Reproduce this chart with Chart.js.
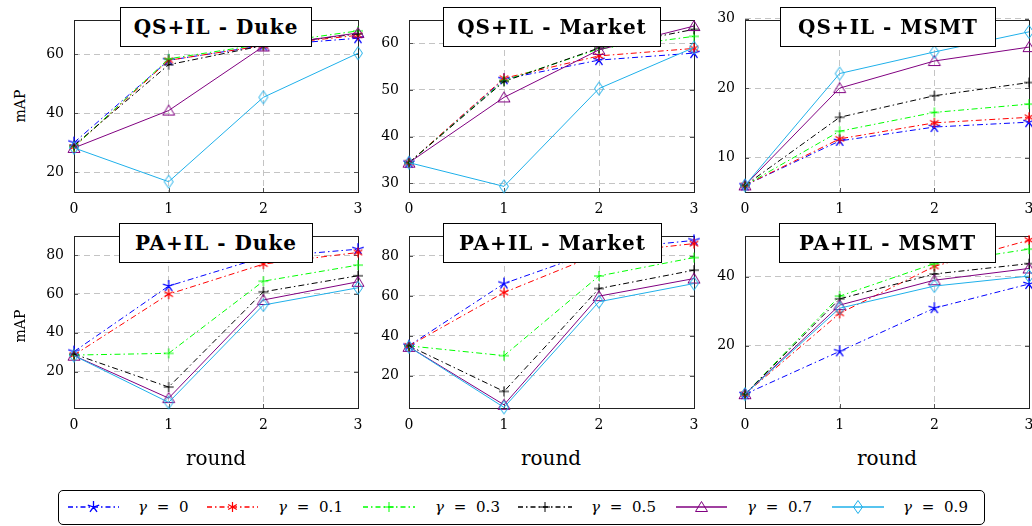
<!DOCTYPE html>
<html>
<head>
<meta charset="utf-8">
<script src="https://cdn.jsdelivr.net/npm/chart.js@4.4.1/dist/chart.umd.min.js"></script>
<style>
  body { margin: 0; width: 1032px; height: 526px; overflow: hidden; background: #fff; position: relative; font-family: "DejaVu Serif", serif; }
  canvas { position: absolute; }
  .ttl { position: absolute; height: 40px; border: 1px solid #000; background: #fff; box-sizing: border-box;
         font: bold 20px "DejaVu Serif", serif; letter-spacing: 1px; display: flex; align-items: center; justify-content: center; z-index: 2; }
  .ylab { position: absolute; width: 60px; height: 20px; line-height: 20px; text-align: center; font-size: 14px; transform: rotate(-90deg); }
  .xlab { position: absolute; width: 120px; height: 24px; line-height: 24px; text-align: center; font-size: 20px; }
  .legend { position: absolute; left: 58px; top: 490px; width: 927px; height: 35px; border: 1px solid #000; border-radius: 5px; box-sizing: border-box; }
  .ltxt { position: absolute; top: 497px; height: 20px; line-height: 20px; font-size: 15px; word-spacing: 5px; white-space: nowrap; }
</style>
</head>
<body>
<script>
// data
const rounds = ["0", "1", "2", "3"]
const gammas = ["0", "0.1", "0.3", "0.5", "0.7", "0.9"]

const qsDuke = [
  [30, 58, 63, 65.5],
  [28.5, 58, 63, 66.5],
  [28.5, 58.5, 63.5, 68],
  [29, 56.5, 63, 67],
  [28.2, 40.9, 62.7, 67.3],
  [28.2, 16.7, 45.4, 60.4],
]
const qsMarket = [
  [34.4, 52.3, 56.4, 57.9],
  [34.4, 52.5, 57.3, 58.9],
  [34.4, 52, 58.8, 61.5],
  [34.4, 51.8, 59, 63],
  [34.4, 48.4, 58.6, 63.7],
  [34.4, 29.3, 50.3, 59.1],
]
const qsMsmt = [
  [6, 12.4, 14.4, 15.1],
  [6, 12.7, 15, 15.8],
  [6, 13.8, 16.5, 17.7],
  [6, 15.8, 18.9, 20.8],
  [6, 20, 23.9, 25.9],
  [6, 22.1, 25.2, 28.1],
]
const paDuke = [
  [30.3, 64.1, 79, 83.1],
  [28.5, 59.9, 75.4, 81.4],
  [28.5, 29.4, 66.6, 74.9],
  [29, 12, 61.1, 69.4],
  [28.2, 6.3, 56.9, 66.3],
  [28.2, 4.1, 54.3, 63.2],
]
const paMarket = [
  [35.1, 66.2, 83, 87.8],
  [35, 61.7, 81, 86.2],
  [35, 30.1, 70, 79.2],
  [35, 12.2, 63.7, 72.9],
  [34.5, 5.5, 59.9, 68.7],
  [34.5, 4.2, 57.1, 66.2],
]
const paMsmt = [
  [6, 18.4, 30.9, 37.9],
  [6, 29.4, 43, 50.6],
  [6, 34.4, 43.8, 48],
  [6, 33.6, 40.8, 43.8],
  [6, 31.8, 39, 42.4],
  [6, 30.9, 37.3, 40.2],
]

const qsDukeTicks = [20, 40, 60]
const qsMarketTicks = [30, 40, 50, 60]
const qsMsmtTicks = [10, 20, 30]
const paDukeTicks = [20, 40, 60, 80]
const paMarketTicks = [20, 40, 60, 80]
const paMsmtTicks = [20, 40]

const colors = ["#0000ff", "#ff0000", "#00ff00", "#000000", "#800080", "#1fb0ea"]
const marks = ["star", "asterisk", "plus", "plus", "triangle", "diamond"]
const dashDot = [6, 3, 1.5, 3]

function drawMark(ctx, kind, color, cx, cy) {
  ctx.save()
  ctx.strokeStyle = color
  ctx.lineWidth = 1
  ctx.setLineDash([])
  ctx.beginPath()
  if (kind == "star") {
    ctx.lineWidth = 1.3
    for (let k = 0; k < 5; k++) {
      const a = -Math.PI / 2 + k * 2 * Math.PI / 5
      ctx.moveTo(cx, cy)
      ctx.lineTo(cx + 6 * Math.cos(a), cy + 6 * Math.sin(a))
    }
  } else if (kind == "asterisk") {
    ctx.lineWidth = 1.2
    for (let k = 0; k < 3; k++) {
      const a = Math.PI / 2 + k * Math.PI / 3
      ctx.moveTo(cx - 5 * Math.cos(a), cy - 5 * Math.sin(a))
      ctx.lineTo(cx + 5 * Math.cos(a), cy + 5 * Math.sin(a))
    }
  } else if (kind == "plus") {
    ctx.moveTo(cx - 5, cy); ctx.lineTo(cx + 5, cy)
    ctx.moveTo(cx, cy - 5); ctx.lineTo(cx, cy + 5)
  } else if (kind == "triangle") {
    ctx.moveTo(cx, cy - 5.5); ctx.lineTo(cx + 6, cy + 4.5); ctx.lineTo(cx - 6, cy + 4.5); ctx.closePath()
  } else if (kind == "diamond") {
    ctx.moveTo(cx, cy - 6.5); ctx.lineTo(cx + 4.5, cy); ctx.lineTo(cx, cy + 6.5); ctx.lineTo(cx - 4.5, cy); ctx.closePath()
  }
  ctx.stroke()
  ctx.restore()
}

function markCanvas(kind, color) {
  const c = document.createElement("canvas")
  c.width = 16
  c.height = 16
  drawMark(c.getContext("2d"), kind, color, 8, 8)
  return c
}

const markImgs = marks.map((m, i) => markCanvas(m, colors[i]))

// frame + inward ticks like pgfplots
const framePlugin = {
  id: "frame",
  beforeDatasetsDraw(chart) {
    const { ctx, chartArea: a, scales } = chart
    ctx.save()
    ctx.strokeStyle = "#555"
    ctx.lineWidth = 1
    ctx.beginPath()
    scales.y.ticks.forEach((t) => {
      const py = Math.round(scales.y.getPixelForValue(t.value)) + 0.5
      ctx.moveTo(a.left, py); ctx.lineTo(a.left + 4, py)
      ctx.moveTo(a.right - 4, py); ctx.lineTo(a.right, py)
    })
    for (let i = 1; i < rounds.length - 1; i++) {
      const px = Math.round(scales.x.getPixelForValue(i)) + 0.5
      ctx.moveTo(px, a.top); ctx.lineTo(px, a.top + 4)
      ctx.moveTo(px, a.bottom - 4); ctx.lineTo(px, a.bottom)
    }
    ctx.stroke()
    ctx.strokeStyle = "#222"
    ctx.strokeRect(Math.round(a.left) + 0.5, Math.round(a.top) + 0.5, Math.round(a.right - a.left), Math.round(a.bottom - a.top))
    ctx.restore()
  },
}

Chart.defaults.font.family = '"DejaVu Serif", serif'
Chart.defaults.font.size = 14
Chart.defaults.color = "#000"

// tick padding adds to the label overhang, so keep the outer padding above that
const YW = 44, XH = 32, PT = 24, PR = 22

const panels = [
  { title: "QS+IL - Duke", data: qsDuke, ticks: qsDukeTicks, min: 13.2, max: 71.7, x: 74, y: 20, w: 284, h: 172, bx: 120, bw: 192, by: 7 },
  { title: "QS+IL - Market", data: qsMarket, ticks: qsMarketTicks, min: 28.1, max: 65, x: 409, y: 20, w: 285, h: 172, bx: 443, bw: 218, by: 7 },
  { title: "QS+IL - MSMT", data: qsMsmt, ticks: qsMsmtTicks, min: 5.05, max: 29.8, x: 745, y: 20, w: 284, h: 172, bx: 780, bw: 216, by: 7 },
  { title: "PA+IL - Duke", data: paDuke, ticks: paDukeTicks, min: 1.2, max: 89.9, x: 74, y: 236, w: 284, h: 172, bx: 119, bw: 194, by: 223 },
  { title: "PA+IL - Market", data: paMarket, ticks: paMarketTicks, min: 3.9, max: 90, x: 409, y: 236, w: 285, h: 172, bx: 443, bw: 219, by: 223 },
  { title: "PA+IL - MSMT", data: paMsmt, ticks: paMsmtTicks, min: 2, max: 51.8, x: 745, y: 236, w: 284, h: 172, bx: 779, bw: 217, by: 223 },
]

panels.forEach((p) => {
  const cv = document.createElement("canvas")
  cv.width = YW + p.w + PR
  cv.height = PT + p.h + XH
  cv.style.left = p.x - YW + "px"
  cv.style.top = p.y - PT + "px"
  document.body.appendChild(cv)

  new Chart(cv.getContext("2d"), {
    type: "line",
    data: {
      labels: rounds,
      datasets: p.data.map((vals, i) => ({
        label: "γ = " + gammas[i],
        data: vals,
        borderColor: colors[i],
        borderWidth: 1,
        borderDash: i < 4 ? dashDot : [],
        pointStyle: markImgs[i],
        pointRadius: 5,
        tension: 0,
        fill: false,
        clip: false,
        order: 5 - i,
      })),
    },
    options: {
      responsive: false,
      animation: false,
      events: [],
      layout: { padding: { top: PT, right: PR, left: 0, bottom: 0 } },
      plugins: { legend: { display: false }, tooltip: { enabled: false } },
      scales: {
        x: {
          offset: false,
          grid: { color: "#c4c4c4", lineWidth: 1, drawTicks: false },
          border: { display: false, dash: [6, 4] },
          ticks: { padding: 9, maxRotation: 0 },
          afterFit(axis) { axis.height = XH },
        },
        y: {
          min: p.min,
          max: p.max,
          grid: { color: "#c4c4c4", lineWidth: 1, drawTicks: false },
          border: { display: false, dash: [6, 4] },
          ticks: { padding: 10, includeBounds: false },
          afterBuildTicks(axis) { axis.ticks = p.ticks.map((v) => ({ value: v })) },
          afterFit(axis) { axis.width = YW },
        },
      },
    },
    plugins: [framePlugin],
  })

  const t = document.createElement("div")
  t.className = "ttl"
  t.style.left = p.bx + "px"
  t.style.top = p.by + "px"
  t.style.width = p.bw + "px"
  t.textContent = p.title
  document.body.appendChild(t)
})

// axis labels
;[106, 326].forEach((cy) => {
  const d = document.createElement("div")
  d.className = "ylab"
  d.textContent = "mAP"
  d.style.left = 20 - 30 + "px"
  d.style.top = cy - 10 + "px"
  document.body.appendChild(d)
})
;[216, 551, 887].forEach((cx) => {
  const d = document.createElement("div")
  d.className = "xlab"
  d.textContent = "round"
  d.style.left = cx - 60 + "px"
  d.style.top = 446 + "px"
  document.body.appendChild(d)
})

// legend
const legendBox = document.createElement("div")
legendBox.className = "legend"
document.body.appendChild(legendBox)

const sampleX = [[68, 119], [207, 258], [363, 415], [518, 572], [676, 727], [832, 884]]
const textX = [138, 278, 435, 591, 747, 903]

gammas.forEach((g, i) => {
  const [x0, x1] = sampleX[i]
  const c = document.createElement("canvas")
  c.width = x1 - x0
  c.height = 20
  c.style.left = x0 + "px"
  c.style.top = "497px"
  document.body.appendChild(c)
  const ctx = c.getContext("2d")
  ctx.lineWidth = 1.5
  ctx.setLineDash(i < 4 ? [5, 3, 1.5, 3] : [])
  ctx.strokeStyle = colors[i]
  ctx.beginPath()
  ctx.moveTo(0, 10)
  ctx.lineTo(c.width, 10)
  ctx.stroke()
  drawMark(ctx, marks[i], colors[i], c.width / 2, 10)

  const s = document.createElement("span")
  s.className = "ltxt"
  s.style.left = textX[i] + "px"
  s.innerHTML = "<i>γ</i> = " + g
  document.body.appendChild(s)
})
</script>
</body>
</html>
